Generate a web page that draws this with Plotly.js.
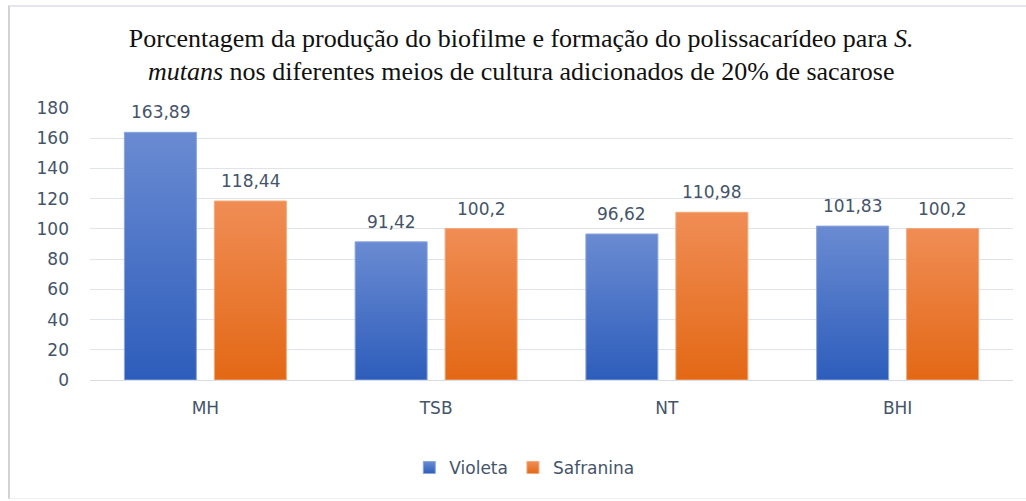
<!DOCTYPE html>
<html>
<head>
<meta charset="utf-8">
<script src="https://cdn.plot.ly/plotly-3.0.1.min.js"></script>
<style>
html,body{margin:0;padding:0;background:#fff;}
#wrap{position:relative;width:1026px;height:501px;}
#chart{width:1026px;height:501px;}
#frame{position:absolute;left:8px;top:5px;width:1018px;height:494px;border-left:2px solid #d0d2d8;border-top:2px solid #e4e5ee;border-bottom:1px solid #f0f0f3;pointer-events:none;box-sizing:border-box;}
#chart .barlayer .trace.bars:nth-child(1) path{fill:url(#gBlue) !important;}
#chart .barlayer .trace.bars:nth-child(2) path{fill:url(#gOrange) !important;}
#chart .legend .traces:nth-child(1) .legendpoints path{fill:url(#gBlue) !important;}
#chart .legend .traces:nth-child(2) .legendpoints path{fill:url(#gOrange) !important;}
</style>
</head>
<body>
<svg width="0" height="0" style="position:absolute;left:0;top:0">
  <defs>
    <linearGradient id="gBlue" x1="0" y1="0" x2="0" y2="1">
      <stop offset="0" stop-color="#6a8bd2"/>
      <stop offset="1" stop-color="#2d5dbb"/>
    </linearGradient>
    <linearGradient id="gOrange" x1="0" y1="0" x2="0" y2="1">
      <stop offset="0" stop-color="#f08d55"/>
      <stop offset="1" stop-color="#e36815"/>
    </linearGradient>
  </defs>
</svg>
<div id="wrap"><div id="chart"></div><div id="frame"></div></div>
<script>
const categories = ["MH", "TSB", "NT", "BHI"];
const violeta = [163.89, 91.42, 96.62, 101.83];
const safranina = [118.44, 100.2, 110.98, 100.2];
const seriesNames = ["Violeta", "Safranina"];
const yTicks = [0, 20, 40, 60, 80, 100, 120, 140, 160, 180];

const fmt = v => String(v).replace('.', ',');
const labelColor = '#44546A';
const axisFont = {family: '"DejaVu Sans", sans-serif', size: 17, color: labelColor};

const traces = [
  {type: 'bar', name: seriesNames[0], x: categories, y: violeta,
   marker: {color: '#4472C4', line: {color: '#8aa5dd', width: 1}}, hoverinfo: 'y'},
  {type: 'bar', name: seriesNames[1], x: categories, y: safranina,
   marker: {color: '#ED7D31', line: {color: '#f4a877', width: 1}}, hoverinfo: 'y'}
];

const annotations = [];
[violeta, safranina].forEach((arr, si) => {
  arr.forEach((v, i) => {
    annotations.push({
      x: categories[i], y: v, xref: 'x', yref: 'y',
      text: fmt(v), showarrow: false, yanchor: 'bottom',
      xshift: si === 0 ? -45 : 45, yshift: 8,
      font: axisFont
    });
  });
});

const layout = {
  width: 1026, height: 501,
  margin: {l: 90, r: 13, t: 108, b: 121},
  paper_bgcolor: '#ffffff', plot_bgcolor: '#ffffff',
  title: {
    text: 'Porcentagem da produção do biofilme e formação do polissacarídeo para <i>S.</i><br><i>mutans</i> nos diferentes meios de cultura adicionados de 20% de sacarose',
    font: {family: '"Liberation Serif", "Times New Roman", serif', size: 26, color: '#111111'},
    x: 0.508, xref: 'container', xanchor: 'center',
    y: 0.907, yref: 'container', yanchor: 'top'
  },
  barmode: 'group', bargap: 0.22, bargroupgap: 0.2,
  xaxis: {
    type: 'category', tickfont: axisFont, showgrid: false, zeroline: false,
    showline: false, ticks: '', ticklabelstandoff: 16
  },
  yaxis: {
    range: [0, 180], tickvals: yTicks, ticktext: yTicks.map(String),
    tickfont: axisFont, showgrid: true, gridcolor: '#e1e3ea', gridwidth: 1,
    zeroline: true, zerolinecolor: '#d9dce4', zerolinewidth: 1,
    showline: false, ticks: '', ticklabelstandoff: 20
  },
  legend: {
    orientation: 'h', x: 0.511, xref: 'container', xanchor: 'center',
    y: 0.066, yref: 'container', yanchor: 'middle',
    font: axisFont, itemwidth: 30, traceorder: 'normal'
  },
  annotations: annotations,
  showlegend: true
};

Plotly.newPlot('chart', traces, layout, {displayModeBar: false, staticPlot: true});
</script>
</body>
</html>
